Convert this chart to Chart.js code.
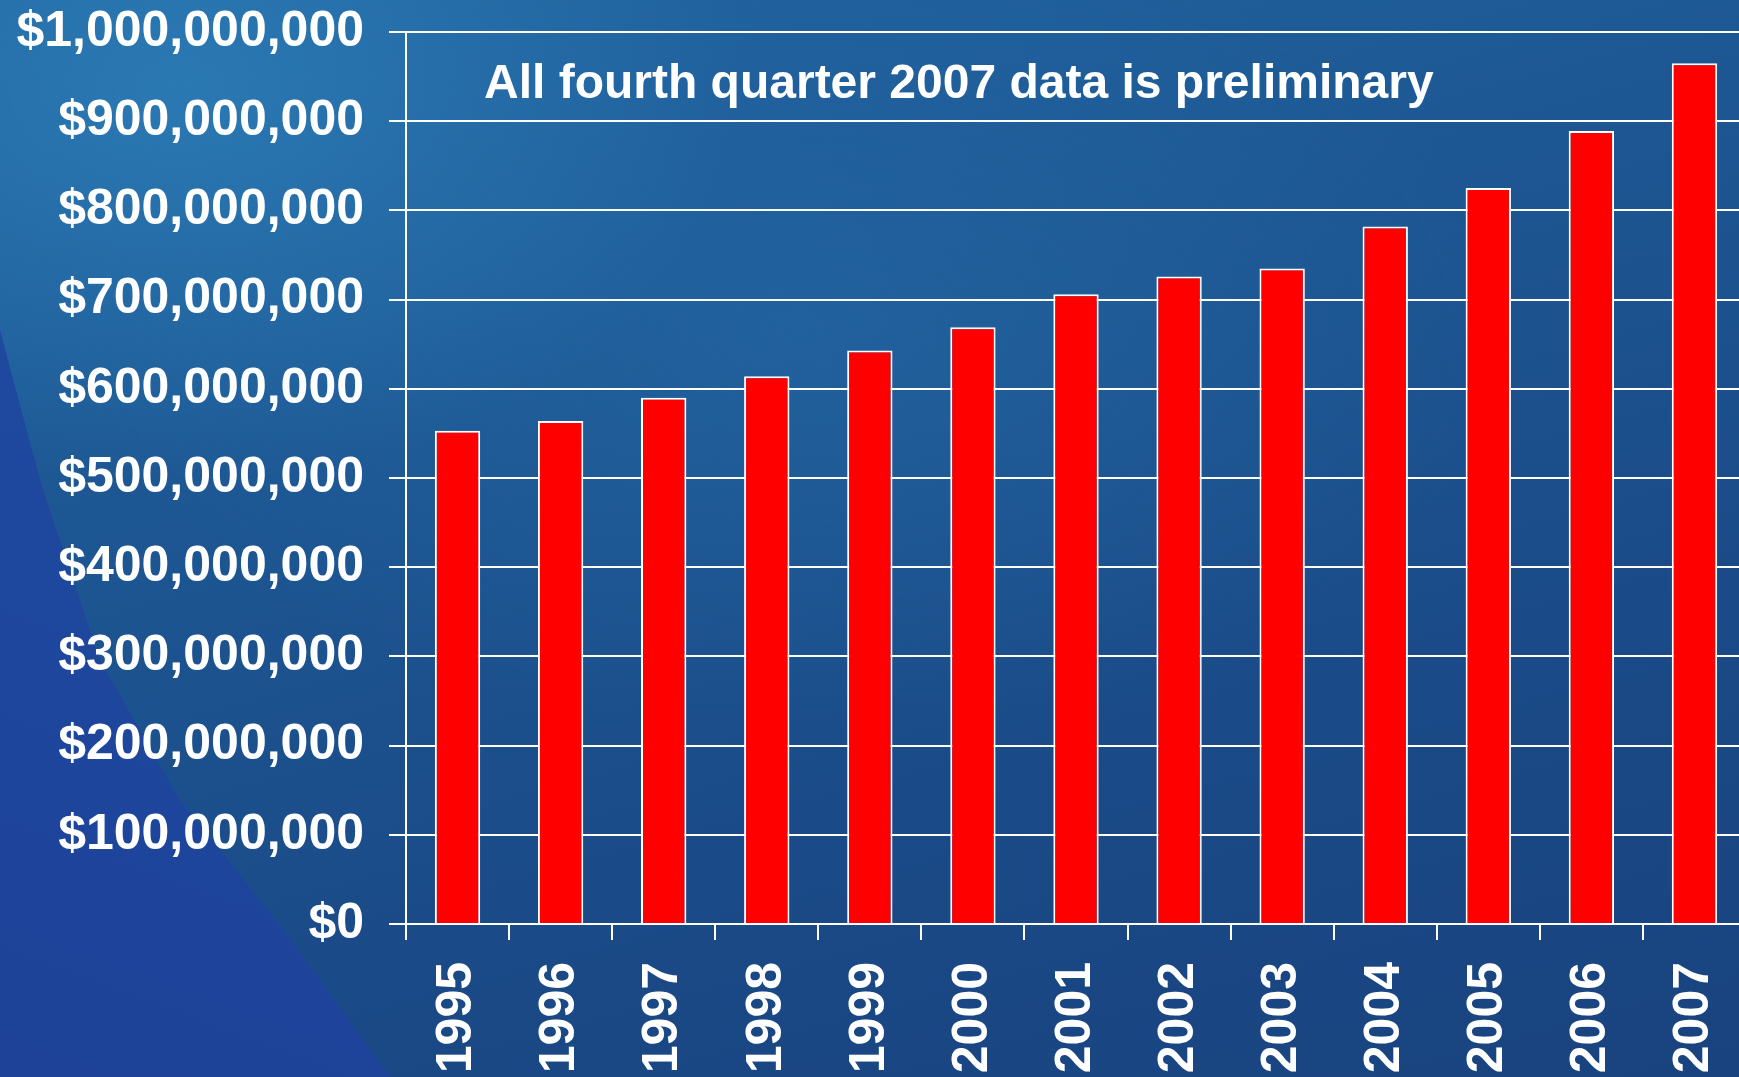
<!DOCTYPE html>
<html>
<head>
<meta charset="utf-8">
<script src="https://cdn.jsdelivr.net/npm/chart.js@4.4.1/dist/chart.umd.min.js"></script>
<style>
    html, body { margin: 0; padding: 0; overflow: hidden; }
    body {
        width: 1739px; height: 1077px;
        background:
            radial-gradient(ellipse 760px 520px at 180px 90px, rgba(46, 128, 186, 0.75), rgba(46, 128, 186, 0) 75%),
            radial-gradient(ellipse 900px 500px at 800px 330px, rgba(36, 105, 165, 0.55), rgba(36, 105, 165, 0) 80%),
            linear-gradient(165deg, #2166a2 0%, #1d5793 35%, #1a4a87 70%, #19437f 100%);
    }
    #wedge {
        position: absolute; left: 0; top: 0; width: 600px; height: 1077px;
        background: linear-gradient(200deg, #1f50a2 0%, #1e479e 60%, #1d4298 100%);
        clip-path: polygon(0 330px, 40px 480px, 100px 660px, 180px 800px, 280px 925px, 390px 1077px, 0 1077px);
    }
    #wrap { position: absolute; left: 0; top: 0; width: 1746px; height: 1077px; }
    #note {
        position: absolute; left: 484px; top: 58px;
        font: bold 48px "Liberation Sans", Arial, sans-serif; line-height: 47px;
        color: #ffffff; white-space: nowrap;
    }
</style>
</head>
<body>
<div id="wedge"></div>
<div id="wrap"><canvas id="revenueChart"></canvas></div>
<div id="note">All fourth quarter 2007 data is preliminary</div>

<script>
// ---- data ----
const years = ['1995', '1996', '1997', '1998', '1999', '2000', '2001',
               '2002', '2003', '2004', '2005', '2006', '2007'];
const amounts = [553000000, 564000000, 590000000, 614000000, 643000000, 669000000, 706000000,
                 726000000, 735000000, 782000000, 825000000, 889000000, 965000000];
const yMin = 0;
const yMax = 1000000000;
const yStep = 100000000;

const FONT = "'Liberation Sans', Arial, sans-serif";

function initRevenueChart(canvasId) {
    const ctx = document.getElementById(canvasId);
    if (!ctx) return;

    new Chart(ctx, {
        type: 'bar',
        data: {
            labels: years,
            datasets: [{
                label: 'Amount',
                data: amounts,
                backgroundColor: '#ff0000',
                borderColor: '#ffffff',
                borderWidth: 2,
                borderSkipped: 'bottom',
                barPercentage: 0.44,
                categoryPercentage: 1,
            }]
        },
        options: {
            responsive: true,
            maintainAspectRatio: false,
            animation: false,
            layout: { padding: { top: 32, right: 0, bottom: 0, left: 0 } },
            plugins: {
                legend: { display: false },
                tooltip: { enabled: false }
            },
            scales: {
                y: {
                    min: yMin,
                    max: yMax,
                    ticks: {
                        stepSize: yStep,
                        color: '#ffffff',
                        padding: 25,
                        font: { family: FONT, size: 50, weight: 'bold' },
                        callback: function(value) {
                            return '$' + Number(value).toLocaleString('en-US');
                        }
                    },
                    grid: { color: '#ffffff', lineWidth: 2, tickLength: 17 },
                    border: { display: true, color: '#ffffff', width: 2 },
                    afterFit: function(scale) {
                        scale.width = 406;
                        scale.paddingTop = 0;
                        scale.paddingBottom = 0;
                    }
                },
                x: {
                    ticks: {
                        color: '#ffffff',
                        autoSkip: false,
                        minRotation: 90,
                        maxRotation: 90,
                        padding: 22,
                        font: { family: FONT, size: 50, weight: 'bold' },
                    },
                    grid: {
                        offset: true,
                        drawOnChartArea: false,
                        color: '#ffffff',
                        lineWidth: 2,
                        tickLength: 16
                    },
                    border: { display: true, color: '#ffffff', width: 2 },
                    afterFit: function(scale) {
                        scale.height = 153;
                        scale.paddingLeft = 0;
                        scale.paddingRight = 0;
                    }
                }
            }
        }
    });
}

initRevenueChart('revenueChart');
</script>
</body>
</html>
